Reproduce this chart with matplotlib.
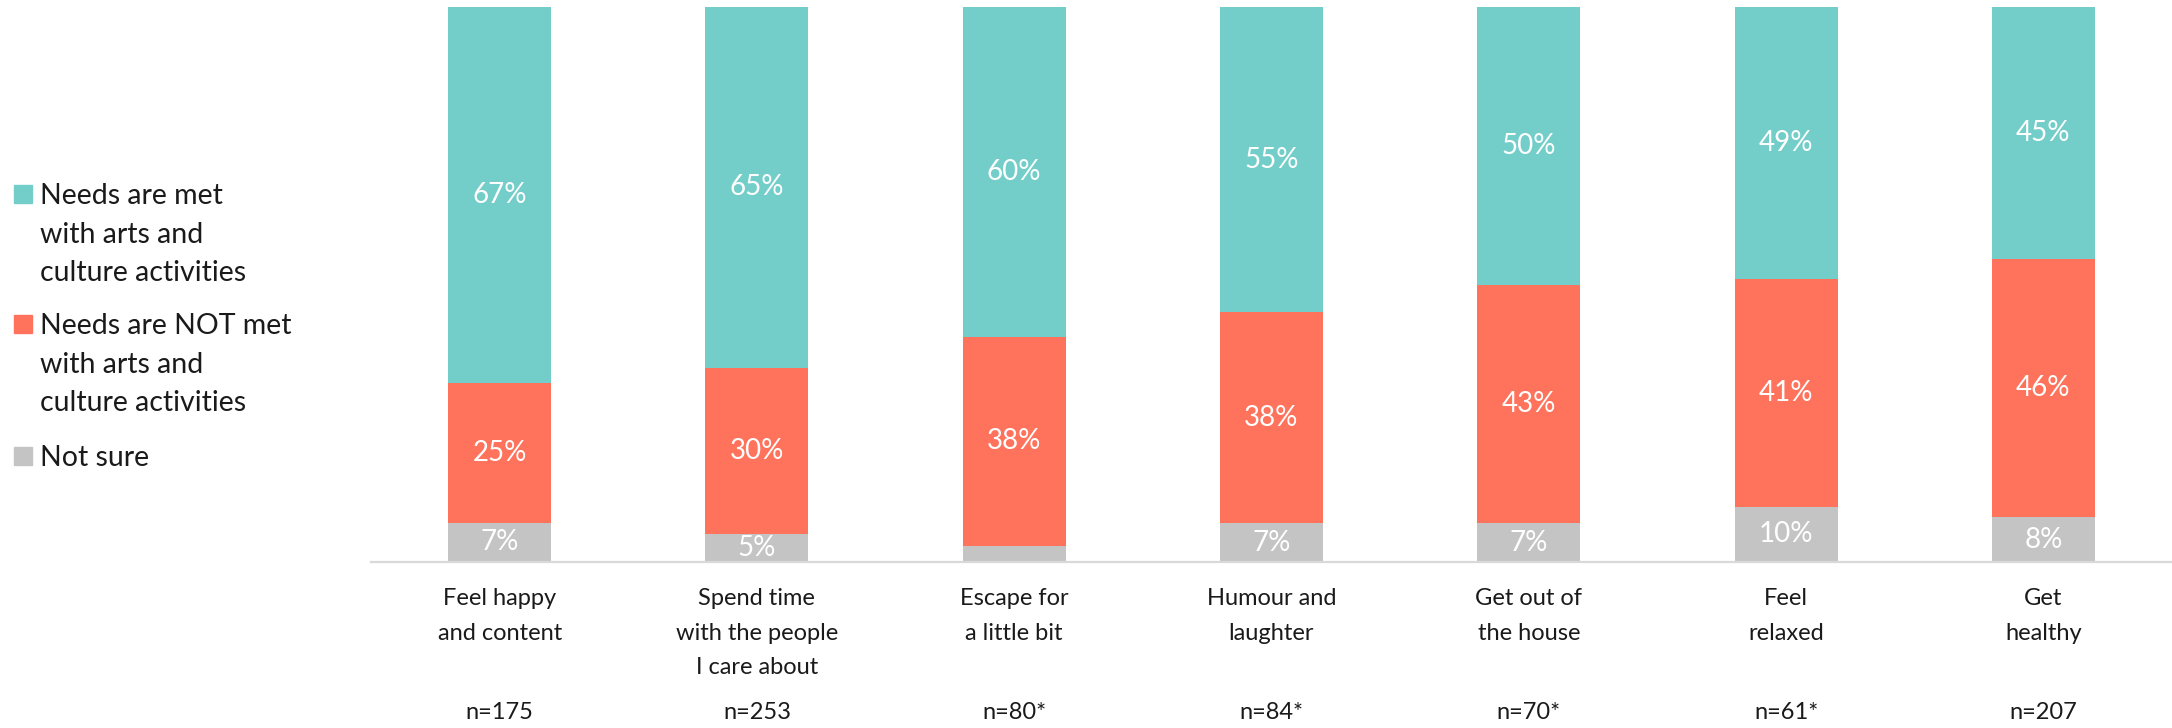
import numpy as np
import matplotlib
matplotlib.use('Agg')
import matplotlib.pyplot as plt
from matplotlib.patches import Rectangle

plt.rcParams['font.family'] = ['Lato', 'DejaVu Sans']

# data (percent)
categories = ['Feel happy\nand content', 'Spend time\nwith the people\nI care about',
              'Escape for\na little bit', 'Humour and\nlaughter', 'Get out of\nthe house',
              'Feel\nrelaxed', 'Get\nhealthy']
sample_sizes = ['n=175', 'n=253', 'n=80*', 'n=84*', 'n=70*', 'n=61*', 'n=207']
not_sure = [7, 5, 3, 7, 7, 10, 8]
not_met = [25, 30, 38, 38, 43, 41, 46]
met = [67, 65, 60, 55, 50, 49, 45]
series_names = ['Needs are met\nwith arts and\nculture activities',
                'Needs are NOT met\nwith arts and\nculture activities',
                'Not sure']

c_met = '#73CECA'
c_not = '#FF735C'
c_unsure = '#C4C4C4'
txt_col = '#1A1A1A'

total = np.array(not_sure) + np.array(not_met) + np.array(met)
s_unsure = np.array(not_sure) / total * 100
s_not = np.array(not_met) / total * 100
s_met = np.array(met) / total * 100

fig = plt.figure(figsize=(21.72, 7.28), dpi=100)
ax = fig.add_axes([371/2172, 1-562/728, 1-371/2172, 555/728])

x = np.arange(len(categories))
w = 0.4
b1 = ax.bar(x, s_unsure, w, color=c_unsure)
b2 = ax.bar(x, s_not, w, bottom=s_unsure, color=c_not)
b3 = ax.bar(x, s_met, w, bottom=s_unsure+s_not, color=c_met)

# value labels
for bars, vals, bots in [(b1, not_sure, np.zeros(len(x))), (b2, not_met, s_unsure), (b3, met, s_unsure+s_not)]:
    for rect, v, b in zip(bars, vals, bots):
        if v < 4:
            continue
        ax.text(rect.get_x()+rect.get_width()/2, b+rect.get_height()/2, '%d%%' % v,
                ha='center', va='center', color='white', fontsize=20)

ax.set_xlim(-0.5, len(categories)-0.5)
ax.set_ylim(0, 100)
for s in ['top', 'right', 'left']:
    ax.spines[s].set_visible(False)
ax.spines['bottom'].set_color('#D9D9D9')
ax.spines['bottom'].set_linewidth(1.6)
ax.set_xticks([])
ax.set_yticks([])

trans = ax.get_xaxis_transform()
for xi, lab, n in zip(x, categories, sample_sizes):
    ax.text(xi, -0.047, lab, transform=trans, ha='center', va='top',
            fontsize=17, color=txt_col, linespacing=1.8, clip_on=False)
    ax.text(xi, -0.283, n, transform=trans, ha='center', va='baseline',
            fontsize=17, color=txt_col, clip_on=False)

# legend drawn by hand so the square sits on the first line
leg_top = [183, 313, 445]
for name, col, yt in zip(series_names, [c_met, c_not, c_unsure], leg_top):
    fig.patches.append(Rectangle((14/2172, 1-(yt+20)/728), 18/2172, 18/728,
                                 transform=fig.transFigure, color=col))
    fig.text(40/2172, 1-yt/728, name, ha='left', va='top', fontsize=20.5,
             color=txt_col, linespacing=1.6)

plt.savefig('out.png', dpi=100)
